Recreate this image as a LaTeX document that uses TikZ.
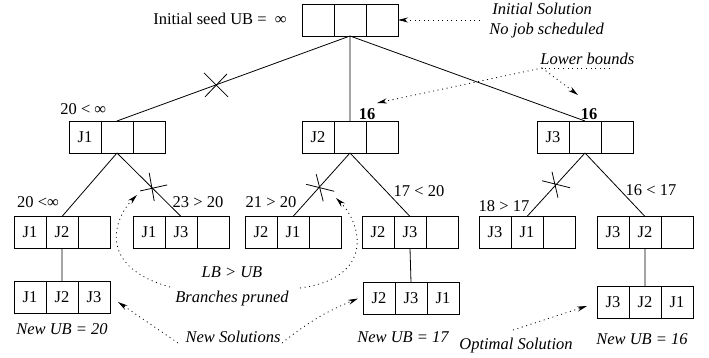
\documentclass[tikz,border=0pt]{standalone}
\usepackage{fontspec}
\setmainfont{Liberation Serif}
\usetikzlibrary{positioning,arrows.meta,calc}

% three job slots side by side: name, x, y, slot texts
\newcommand{\jobs}[6]{%
  \node[cell] (#1-1) at (#2,#3) {#4};
  \node[cell,right=0pt of #1-1] (#1-2) {#5};
  \node[cell,right=0pt of #1-2] (#1-3) {#6};}

\begin{document}
\begin{tikzpicture}[x=1pt,y=1pt,line width=0.8pt,
	every node/.style={font=\fontsize{16.5}{20}\selectfont},
	cell/.style={draw,minimum width=32pt,minimum height=32pt,inner sep=0pt,outer sep=0pt},
	lbl/.style={anchor=base,inner sep=0pt},
	tag/.style={anchor=base,inner sep=0pt,font=\fontsize{16.5}{20}\selectfont\itshape},
	note/.style={dash pattern=on 1pt off 3.6pt,-{Stealth[length=10pt,width=5pt]}}]
		\useasboundingbox (0,0) rectangle (709,358);

		% tree
		\jobs{root}{318}{338}{}{}{}
		\jobs{j1}{85}{221}{J1}{}{}
		\jobs{j2}{318}{221}{J2}{}{}
		\jobs{j3}{553}{221}{J3}{}{}
		\jobs{j12}{30}{125.5}{J1}{J2}{}
		\jobs{j13}{149}{125.5}{J1}{J3}{}
		\jobs{j21}{261}{125.5}{J2}{J1}{}
		\jobs{j23}{378}{125.5}{J2}{J3}{}
		\jobs{j31}{495}{125.5}{J3}{J1}{}
		\jobs{j32}{613}{125.5}{J3}{J2}{}
		\jobs{j123}{30}{60.5}{J1}{J2}{J3}
		\jobs{j231}{379}{59.5}{J2}{J3}{J1}
		\jobs{j321}{613}{56}{J3}{J2}{J1}

		\draw (root-2.south) -- (j1-2.north)
		(root-2.south) -- (j2-2.north)
		(root-2.south) -- (j3-2.north);
		\draw (j1-2.south) -- (j12-2.north)
		(j1-2.south) -- (j13-2.north)
		(j2-2.south) -- (j21-2.north)
		(j2-2.south) -- (j23-2.north)
		(j3-2.south) -- (j31-2.north)
		(j3-2.south) -- (j32-2.north);
		\draw (j12-2.south) -- (j123-2.north)
		(j23-2.south) -- (j231-2.north)
		(j32-2.south) -- (j321-2.north);

		% pruned branches
		\coordinate (x1) at ($(root-2.south)!0.575!(j1-2.north)$);
		\coordinate (x2) at ($(j1-2.south)!0.55!(j13-2.north)$);
		\coordinate (x3) at ($(j2-2.south)!0.54!(j21-2.north)$);
		\coordinate (x4) at ($(j3-2.south)!0.5!(j31-2.north)$);
		\draw (x1) ++(-12,12) -- ++(24,-24) (x1) ++(-11,-12) -- ++(22,23);
		\draw (x2) ++(-12,-3) -- ++(27,6) (x2) ++(-3,15) -- ++(5,-28);
		\draw (x3) ++(-13,3) -- ++(28,-7) (x3) ++(-3,13) -- ++(7,-27);
		\draw (x4) ++(-14,4) -- ++(28,-7) (x4) ++(-4,13) -- ++(6,-26);

		% bounds
		\node[lbl,anchor=base east] (seed) at (287,333) {Initial seed UB =~~∞};
		\node[lbl,anchor=base west] (ub1) at (60,243) {20 < ∞};
		\node[lbl,font=\fontsize{16.5}{20}\selectfont\bfseries] (lb2) at (367,238) {16};
		\node[lbl,font=\fontsize{16.5}{20}\selectfont\bfseries] (lb3) at (589,238) {16};
		\node[lbl] (t12) at (38,150) {20 <∞};
		\node[lbl] (t13) at (198,150) {23 > 20};
		\node[lbl] (t21) at (271,150) {21 > 20};
		\node[lbl] (t23) at (419,161) {17 < 20};
		\node[lbl] (t31) at (504,146) {18 > 17};
		\node[lbl] (t32) at (651,162) {16 < 17};

		% notes
		\node[tag,anchor=base west] (isol1) at (492,343) {Initial Solution};
		\node[tag,anchor=base west] (isol2) at (489,323) {No job scheduled};
		\node[tag,anchor=base west] (lbd) at (540,293) {Lower bounds};
		\node[tag] (lbub) at (232,80) {LB > UB};
		\node[tag] (pruned) at (232,55) {Branches pruned};
		\node[tag] (new20) at (62,23) {New UB = 20};
		\node[tag] (newsol) at (233,15) {New Solutions};
		\node[tag] (new17) at (403,15) {New UB = 17};
		\node[tag] (opt) at (516,8) {Optimal Solution};
		\node[tag] (new16) at (642,13) {New UB = 16};

		\coordinate (isolfrom) at (480,338);
		\draw[note] (isolfrom) -- (root-3.east);

		\coordinate (lbfrom) at (542,290);
		\coordinate (lbend) at (610,290);
		\coordinate (lbto2) at (377,255);
		\coordinate (lbto3) at (578,263);
		\draw[dash pattern=on 1pt off 3.6pt] (lbend) -- (lbfrom);
		\draw[note] (lbfrom) -- (lbto2);
		\draw[note] (lbfrom) -- (lbto3);

		\coordinate (prl) at (170,71);
		\coordinate (prlto) at (137,163);
		\coordinate (prr) at (300,70);
		\coordinate (prrto) at (336,160);
		\draw[note] (prl) .. controls (95,92) and (115,141) .. (prlto);
		\draw[note] (prr) .. controls (375,80) and (362,134) .. (prrto);

		\coordinate (nsl) at (178,15);
		\coordinate (nsr) at (282,15);
		\draw[note] (nsl) -- ([xshift=8pt]j123-3.east |- 0,56);
		\draw[note] (nsr) to[bend left=8] ([xshift=-5pt]j231-1.west);

		\coordinate (optfrom) at (513,28);
		\draw[note] (optfrom) -- ([xshift=-10pt,yshift=-4pt]j321-1.west);
	\end{tikzpicture}
\end{document}
